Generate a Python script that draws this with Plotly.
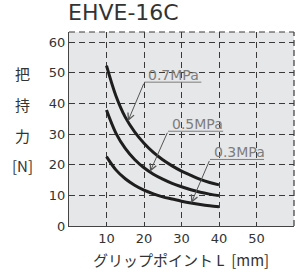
import numpy as np
import plotly.graph_objects as go

# Data
grip_L = [10, 12.5, 15, 17.5, 20, 22.5, 25, 27.5, 30, 32.5, 35, 37.5, 40]
force_07 = [52.3, 42.5, 35.5, 30.7, 27.0, 24.0, 21.6, 19.6, 17.9, 16.5, 15.2, 14.2, 13.4]
force_05 = [37.8, 30.3, 25.3, 21.7, 19.0, 16.9, 15.3, 13.9, 12.8, 11.8, 11.0, 10.4, 9.9]
force_03 = [22.6, 18.3, 15.4, 13.3, 11.7, 10.5, 9.5, 8.8, 8.1, 7.5, 7.0, 6.6, 6.3]
series_names = ["0.7MPa", "0.5MPa", "0.3MPa"]
x_ticks = [10, 20, 30, 40, 50]
y_ticks = [0, 10, 20, 30, 40, 50, 60]
title_text = "EHVE-16C"
x_title = "グリップポイント L\u00a0\u00a0[mm]"
y_title_chars = ["把", "持", "力", "[N]"]

FONT = "DejaVu Sans"
X_RANGE = [0, 60]
Y_RANGE = [0, 63.26]
GRID = "#3a3a3a"
GRAY = "#7d7d7d"

fig = go.Figure()
for ys in (force_07, force_05, force_03):
    fig.add_trace(go.Scatter(x=grip_L, y=ys, mode="lines",
                             line=dict(color="#1e1e1e", width=3, shape="spline", smoothing=1),
                             showlegend=False, hoverinfo="skip"))

plot_l, plot_w = 69, 225

# label layout (underline start, underline end, underline y, arrow tip x)
label_specs = [
    (force_07, series_names[0], 20.1, 35.3, 46.9, 15.7),
    (force_05, series_names[1], 26.4, 41.1, 30.9, 21.6),
    (force_03, series_names[2], 37.6, 52.0, 21.7, 32.6),
]
shapes = []
annotations = []
for ys, name, u0, u1, uy, tipx in label_specs:
    tipy = float(np.interp(tipx, grip_L, ys))
    shapes.append(dict(type="line", xref="x", yref="y", x0=u0, x1=u1, y0=uy, y1=uy,
                       line=dict(color=GRAY, width=1)))
    annotations.append(dict(x=tipx, y=tipy, ax=u0, ay=uy, axref="x", ayref="y", xref="x", yref="y",
                            text="", showarrow=True, arrowhead=5, arrowsize=1.3, arrowwidth=1,
                            arrowcolor="#555555"))
    annotations.append(dict(x=u0 + 0.4, y=uy, xref="x", yref="y", text=name, showarrow=False,
                            xanchor="left", yanchor="bottom", yshift=-3,
                            font=dict(family=FONT, size=14, color=GRAY)))

# top and right dashed borders
shapes.append(dict(type="line", xref="paper", yref="paper", x0=0, x1=1, y0=1, y1=1,
                   line=dict(color=GRID, width=1.2, dash="6px,4px"), layer="below"))
shapes.append(dict(type="line", xref="paper", yref="paper", x0=1, x1=1, y0=0, y1=1,
                   line=dict(color=GRID, width=1.2, dash="6px,4px"), layer="below"))

# y-axis title stacked characters
for ch, yv in zip(y_title_chars, [50, 40, 30, 20]):
    annotations.append(dict(x=(22 - plot_l) / plot_w, y=yv, xref="paper", yref="y", text=ch, showarrow=False,
                            xanchor="center", yanchor="middle",
                            font=dict(family="Noto Sans CJK JP", size=15, color="#333333"), yshift=-1))

annotations.append(dict(x=(181 - plot_l) / plot_w, y=-(259 - 226) / 194, xref="paper", yref="paper",
                        text=x_title, showarrow=False, xanchor="center", yanchor="middle",
                        font=dict(family="Noto Sans CJK JP", size=15, color="#333333")))
annotations.append(dict(x=0, y=(226 - 12.5) / 194, xref="paper", yref="paper", text=title_text,
                        showarrow=False, xanchor="left", yanchor="middle", xshift=-3,
                        font=dict(family=FONT, size=22, color="#333333")))

fig.update_layout(
    width=296, height=273,
    margin=dict(l=plot_l, r=296 - plot_l - plot_w, t=32, b=47),
    paper_bgcolor="white", plot_bgcolor="#e6e7e9",
    shapes=shapes, annotations=annotations,
    xaxis=dict(range=X_RANGE, tickvals=x_ticks, showgrid=True, gridcolor=GRID, gridwidth=1.2, griddash="6px,4px",
               showline=True, linecolor="#444444", linewidth=1.3, zeroline=False, ticks="",
               tickfont=dict(family=FONT, size=13, color="#333333")),
    yaxis=dict(range=Y_RANGE, tickvals=y_ticks, showgrid=True, gridcolor=GRID, gridwidth=1.2, griddash="6px,4px",
               showline=True, linecolor="#444444", linewidth=1.3, zeroline=False, ticks="",
               tickfont=dict(family=FONT, size=13, color="#333333")),
)

fig.write_html("out.html", config={"displayModeBar": False},
               post_script="document.body.style.margin='0';document.body.style.padding='0';")
